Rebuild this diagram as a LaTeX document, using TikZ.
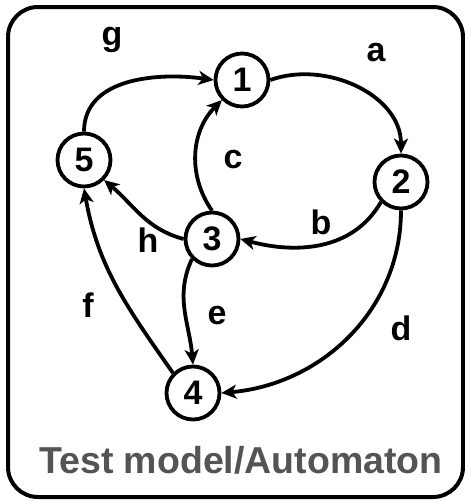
\documentclass[tikz,border=0pt]{standalone}
\usepackage{fontspec}
\setmainfont{Liberation Sans}
\usetikzlibrary{arrows.meta}
\begin{document}
\begin{tikzpicture}[x=1pt,y=-1pt,
  state/.style={circle,draw,line width=3.8pt,minimum size=53pt,inner sep=0pt,
    font=\fontsize{34}{34}\selectfont\bfseries},
  edge/.style={line width=3.8pt,-{Stealth[length=15pt,width=14pt,inset=4pt]}},
  lbl/.style={font=\fontsize{34}{34}\selectfont\bfseries}]
\useasboundingbox (0,0) rectangle (465,501);
% frame
\draw[line width=4pt,rounded corners=30pt] (8,7) rectangle (463,497);
% states
\node[state] (n1) at (242,80) {1};
\node[state] (n2) at (401,182) {2};
\node[state] (n3) at (212,239) {3};
\node[state] (n4) at (193,393) {4};
\node[state] (n5) at (84,160) {5};
% transitions
\draw[edge] (n5.north) to[out=90,in=172] (n1.west);
\draw[edge] (n1.east) to[out=20,in=90] (n2.north);
\draw[edge] (n3.north) to[out=125,in=-135] (n1.south west);
\draw[edge] (n2.south west) to[out=-120,in=-15] (n3.east);
\draw[edge] (n3.west) to[out=165,in=-40] (n5.south east);
\draw[edge] (n3.south west) to[out=-115,in=95] (n4.north);
\draw[edge] (n4.north west) to[out=125,in=-80] (n5.south);
\draw[edge] (n2.south) to[out=-90,in=5] (n4.east);
% labels
\node[lbl] (lg) at (112,40) {g};
\node[lbl] (la) at (376,53) {a};
\node[lbl] (lc) at (233,160) {c};
\node[lbl] (lb) at (321,222) {b};
\node[lbl] (lh) at (148,240) {h};
\node[lbl] (le) at (217,316) {e};
\node[lbl] (lf) at (88,305) {f};
\node[lbl] (ld) at (401,328) {d};
% caption
\node[font=\fontsize{37.5}{37.5}\selectfont\bfseries,text=black!67] (cap) at (241,460) {Test model/Automaton};
\end{tikzpicture}
\end{document}
